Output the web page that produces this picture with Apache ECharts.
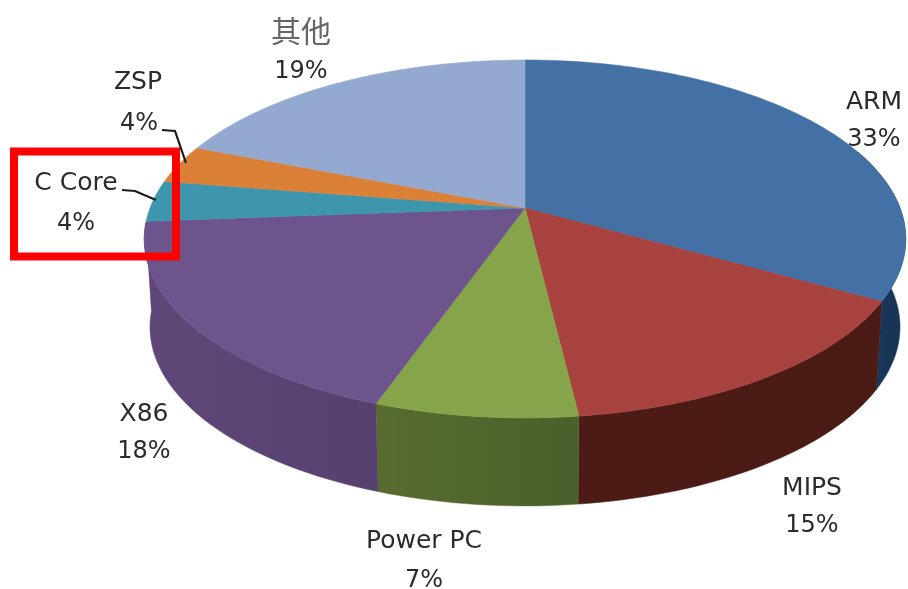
<!DOCTYPE html>
<html>
<head>
<meta charset="utf-8">
<style>html,body{margin:0;padding:0;background:#fff}#c{width:908px;height:589px;filter:blur(0.5px)}</style>
<script src="https://cdn.jsdelivr.net/npm/echarts@6/dist/echarts.min.js"></script>
</head>
<body>
<div id="c"></div>
<script>
// Data: shares; the printed labels are their rounded values.
const categories = ['ARM', 'MIPS', 'Power PC', 'X86', 'C Core', 'ZSP', '其他'];
const shares = [33.2, 14.9, 7.3, 18.4, 3.7, 3.5, 19.0];

// Style
const topColors = ['#4371A6', '#A8423F', '#86A44A', '#6E548D', '#3D96AE', '#DA8137', '#93A9CF'];
const wallColors = [['#1A3A5F', '#173354'], ['#4C1B16', '#4A1A15'], ['#596C30', '#48602A'], ['#5F4778', '#57406E'], ['#2A6A7C', '#2A6A7C'], ['#9C5C26', '#9C5C26'], ['#66768F', '#66768F']];
const nameAnchors = [[874, 102], [812, 488], [424, 541], [144, 414], [76, 183], [138, 82], [301, 31]];
const pctAnchors = [[874, 140], [812, 526], [424, 581], [144, 452], [76, 224], [139, 124], [301, 72]];
const textFont = '"DejaVu Sans", sans-serif';
const leaderLines = [
  { from: 'ZSP', pts: [[162, 130], [175, 131], [186, 163]] },
  { from: 'C Core', pts: [[122, 190], [135, 191], [156, 200]] }
];

// Perspective projection of the pie disc
const CX = 525, CY = 208, RX = 375, RY = 173.6, PERSP = 0.173;
const DEPTH = 88, BOTTOM_SCALE = 0.985;
const WALL_FROM = 70, WALL_TO = 265;   // only the front of the rim is visible
function project(deg, bottom) {
  const t = deg * Math.PI / 180, x = Math.sin(t), y = -Math.cos(t), w = 1 - PERSP * y;
  const s = bottom ? BOTTOM_SCALE : 1;
  return [CX + s * RX * x / w, CY + (bottom ? DEPTH : 0) + RY * y / w];
}
function arc(a0, a1, bottom) {
  const n = Math.max(2, Math.ceil((a1 - a0) / 1.5)), out = [];
  for (let i = 0; i <= n; i++) out.push(project(a0 + (a1 - a0) * i / n, bottom));
  return out;
}
const total = shares.reduce((a, b) => a + b, 0);
let cum = 0;
const sliceData = shares.map((v, i) => {
  const row = [i, cum / total * 360, (cum + v) / total * 360, v];
  cum += v;
  return row;
});

function toPx(api, pts) { return pts.map(p => api.coord(p)); }

function renderWall(params, api) {
  const i = api.value(0);
  const a0 = Math.max(api.value(1), WALL_FROM), a1 = Math.min(api.value(2), WALL_TO);
  if (a1 <= a0) return null;
  const pts = toPx(api, arc(a0, a1, false).concat(arc(a0, a1, true).reverse()));
  const c = wallColors[i];
  return {
    type: 'polygon',
    shape: { points: pts },
    style: {
      fill: new echarts.graphic.LinearGradient(0, 0, 1, 0, [{ offset: 0, color: c[0] }, { offset: 1, color: c[1] }]),
      stroke: c[0], lineWidth: 0.5
    },
    silent: true
  };
}

function renderTop(params, api) {
  const i = api.value(0), a0 = api.value(1), a1 = api.value(2), v = api.value(3);
  const pts = toPx(api, [[CX, CY]].concat(arc(a0, a1, false)));
  const name = api.coord(nameAnchors[i]), pct = api.coord(pctAnchors[i]);
  const isCjk = categories[i] === '其他';
  return {
    type: 'group',
    children: [
      { type: 'polygon', shape: { points: pts }, style: { fill: topColors[i], stroke: topColors[i], lineWidth: 0.6 }, silent: true },
      { type: 'text', x: name[0], y: name[1], style: {
          text: categories[i], align: 'center', verticalAlign: 'middle',
          fill: isCjk ? '#666666' : '#2b2b2b',
          font: (isCjk ? '30px "Noto Sans CJK SC"' : '25px ' + textFont) }, z2: 20 },
      { type: 'text', x: pct[0], y: pct[1], style: {
          text: Math.round(v) + '%', align: 'center', verticalAlign: 'middle',
          fill: '#2b2b2b', font: '24px ' + textFont }, z2: 20 }
    ]
  };
}

function renderLeader(params, api) {
  const pts = toPx(api, leaderLines[api.value(0)].pts);
  return { type: 'polyline', shape: { points: pts }, style: { fill: 'none', stroke: '#1a1a1a', lineWidth: 2.2 }, silent: true };
}

const chart = echarts.init(document.getElementById('c'), null, { renderer: 'canvas', width: 908, height: 589 });
chart.setOption({
  animation: false,
  backgroundColor: '#ffffff',
  grid: { left: 0, right: 0, top: 0, bottom: 0 },
  xAxis: { type: 'value', min: 0, max: 908, show: false },
  yAxis: { type: 'value', min: 0, max: 589, inverse: true, show: false },
  series: [
    { type: 'custom', name: 'walls', z: 1, clip: false, renderItem: renderWall, data: sliceData, encode: { x: 1, y: 2 } },
    { type: 'custom', name: 'tops', z: 2, clip: false, renderItem: renderTop, data: sliceData, encode: { x: 1, y: 2 } },
    { type: 'custom', name: 'leaders', z: 3, clip: false, renderItem: renderLeader, data: leaderLines.map((l, i) => [i]), encode: { x: 0 } }
  ],
  graphic: [{
    type: 'rect', z: 100, silent: true,
    shape: { x: 14, y: 151.5, width: 162, height: 105 },
    style: { fill: 'none', stroke: '#FF0000', lineWidth: 8 }
  }]
});
</script>
</body>
</html>
